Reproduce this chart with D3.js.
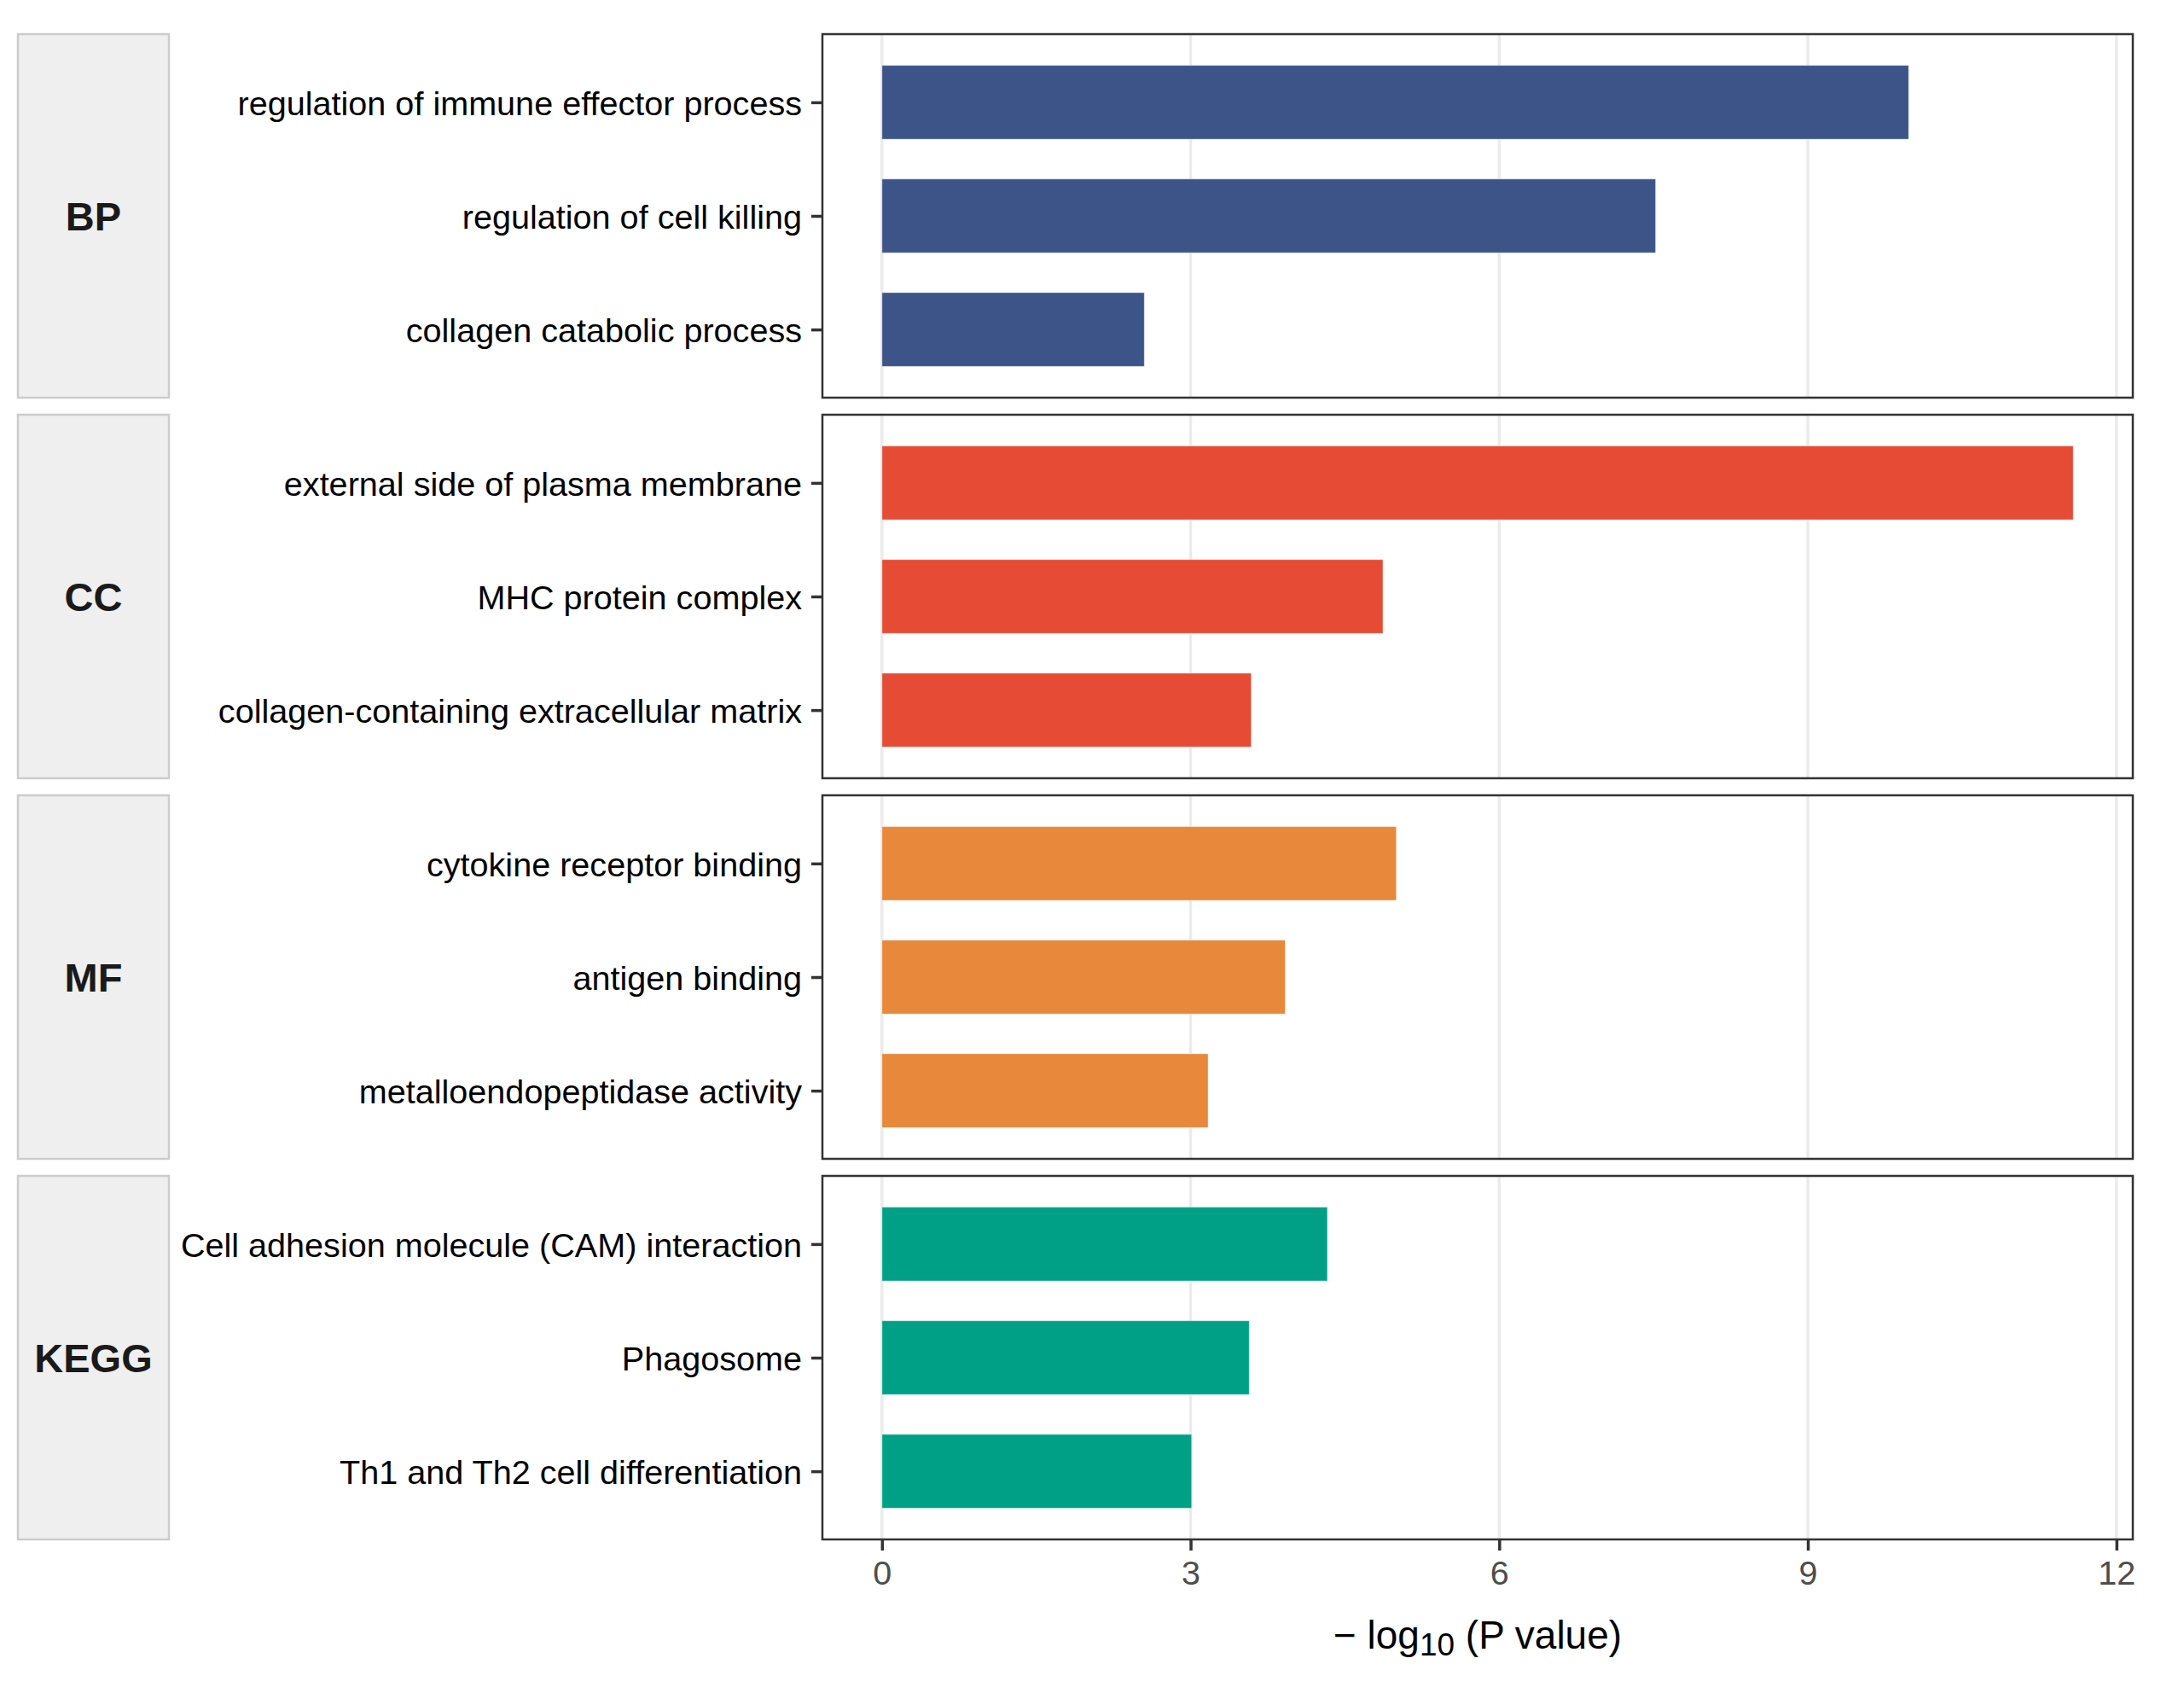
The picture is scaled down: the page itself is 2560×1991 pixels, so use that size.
<!DOCTYPE html>
<html>
<head>
<meta charset="utf-8">
<script src="https://cdn.jsdelivr.net/npm/d3@7"></script>
<style>
  body{margin:0;background:#fff;}
</style>
</head>
<body>
<div id="container"></div>
<script>
let w=2560;
let h=1991;

// data
let groups = ["BP","CC","MF","KEGG"];
let groupColors = ["#3C5488","#E64B35","#E8883A","#00A087"];
let bpTerms = ["regulation of immune effector process","regulation of cell killing","collagen catabolic process"];
let bpValues = [9.98,7.52,2.55];
let ccTerms = ["external side of plasma membrane","MHC protein complex","collagen-containing extracellular matrix"];
let ccValues = [11.58,4.87,3.59];
let mfTerms = ["cytokine receptor binding","antigen binding","metalloendopeptidase activity"];
let mfValues = [5.0,3.92,3.17];
let keggTerms = ["Cell adhesion molecule (CAM) interaction","Phagosome","Th1 and Th2 cell differentiation"];
let keggValues = [4.33,3.57,3.01];
let xTicks = [0,3,6,9,12];

let allTerms = [bpTerms,ccTerms,mfTerms,keggTerms];
let allValues = [bpValues,ccValues,mfValues,keggValues];

// layout
let font = "'Liberation Sans', Arial, Helvetica, sans-serif";
let panelLeft = 964, panelRight = 2500;
let top0 = 40, panelH = 426, gap = 20;
let stripLeft = 21, stripW = 177;

let viz = d3.select("#container")
  .append("svg")
    .attr("width",w)
    .attr("height",h)
    .style("background-color","#fff")
;

let maxVal = d3.max(allValues.flat());
let x = d3.scaleLinear()
  .domain([-0.05*maxVal, 1.05*maxVal])
  .range([panelLeft, panelRight]);

groups.forEach(function(g,i){
  let top = top0 + i*(panelH+gap);
  let rows = allTerms[i].map(function(t,j){ return {term:t, value:allValues[i][j]}; });

  let y = d3.scalePoint()
    .domain(allTerms[i])
    .range([top, top+panelH])
    .padding(0.6);
  let barH = y.step()*0.65;

  let panel = viz.append("g").attr("class","panel");

  // vertical grid lines
  panel.selectAll(".grid").data(xTicks).enter()
    .append("line")
      .attr("x1",d=>x(d)).attr("x2",d=>x(d))
      .attr("y1",top).attr("y2",top+panelH)
      .attr("stroke","#EBEBEB")
      .attr("stroke-width",3.5)
  ;

  // bars
  panel.selectAll(".bar").data(rows).enter()
    .append("rect")
      .attr("class","bar")
      .attr("x",x(0))
      .attr("y",d=>y(d.term)-barH/2)
      .attr("width",d=>x(d.value)-x(0))
      .attr("height",barH)
      .attr("fill",groupColors[i])
      .attr("stroke","rgba(255,255,255,0.45)")
      .attr("stroke-width",1)
  ;

  // panel border
  panel.append("rect")
    .attr("x",panelLeft).attr("y",top)
    .attr("width",panelRight-panelLeft).attr("height",panelH)
    .attr("fill","none")
    .attr("stroke","#333333")
    .attr("stroke-width",2.5)
  ;

  // y axis
  let yAxis = panel.append("g")
    .attr("transform","translate("+panelLeft+",0)")
    .call(d3.axisLeft(y).tickSize(13).tickPadding(11));
  yAxis.select(".domain").remove();
  yAxis.selectAll(".tick line").attr("stroke","#333333").attr("stroke-width",3.5);
  yAxis.selectAll(".tick text")
    .attr("fill","#000")
    .attr("dy","0.36em")
    .style("font-family",font)
    .style("font-size","39.6px");

  // strip on the left
  viz.append("rect")
    .attr("x",stripLeft).attr("y",top)
    .attr("width",stripW).attr("height",panelH)
    .attr("fill","#EFEFEF")
    .attr("stroke","#CCCCCC")
    .attr("stroke-width",2.5)
  ;
  viz.append("text")
    .attr("x",stripLeft+stripW/2)
    .attr("y",top+panelH/2)
    .attr("text-anchor","middle")
    .attr("dominant-baseline","central")
    .attr("fill","#1A1A1A")
    .style("font-family",font)
    .style("font-size","47px")
    .style("font-weight","bold")
    .text(g)
  ;

  // x axis only under the last panel
  if(i==groups.length-1){
    let xAxis = panel.append("g")
      .attr("transform","translate(0,"+(top+panelH)+")")
      .call(d3.axisBottom(x).tickValues(xTicks).tickSize(13).tickPadding(12));
    xAxis.select(".domain").remove();
    xAxis.selectAll(".tick line").attr("stroke","#333333").attr("stroke-width",3.5);
    xAxis.selectAll(".tick text")
      .attr("fill","#4D4D4D")
      .style("font-family",font)
      .style("font-size","39.6px");
  }
});

// x axis title: − log10 (P value)
let title = viz.append("text")
  .attr("x",(panelLeft+panelRight)/2)
  .attr("y",1932)
  .attr("text-anchor","middle")
  .attr("fill","#000")
  .style("font-family",font)
  .style("font-size","46px")
;
title.append("tspan").text("\u2212 log");
title.append("tspan").attr("dy",8).style("font-size","37px").text("10");
title.append("tspan").attr("dy",-8).text(" (P value)");

</script>
</body>
</html>
